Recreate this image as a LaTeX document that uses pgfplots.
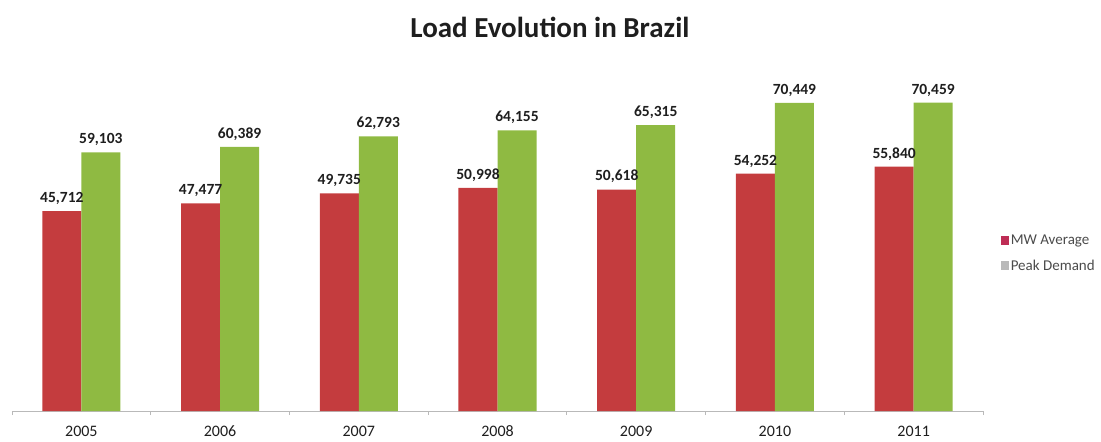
\documentclass[border=0pt]{standalone}
\usepackage{pgfplots}
\pgfplotsset{compat=1.18}
\usepackage{fontspec}
\setmainfont{Carlito}
\definecolor{barred}{RGB}{196,60,62}
\definecolor{bargreen}{RGB}{143,186,66}
\definecolor{legred}{RGB}{190,45,85}
\definecolor{axgrey}{RGB}{185,185,185}
\definecolor{txt}{RGB}{30,30,30}
\begin{document}
\begin{tikzpicture}
\useasboundingbox (0,0) rectangle (1101pt,442pt);
\begin{axis}[
  at={(12pt,31pt)}, anchor=south west,
  scale only axis, width=971pt, height=350pt,
  ymin=0, ymax=80000, xmin=-0.5, xmax=6.5,
  ybar=0pt, bar width=39pt,
  axis y line=none, axis x line*=bottom,
  axis line style={axgrey, line width=1pt},
  xtick={0,...,6}, xticklabels={2005,2006,2007,2008,2009,2010,2011},
  major tick length=0pt,
  minor xtick={-0.5,0.5,...,6.5}, minor tick length=4pt,
  tick style={axgrey, line width=0.8pt},
  xtick pos=bottom, tick align=outside,
  xticklabel style={font=\fontsize{16}{19}\selectfont, text=txt, yshift=-13pt, text height=11pt, text depth=0pt, inner sep=1pt},
  /pgf/number format/.cd, 1000 sep={,}, assume math mode=true, /pgfplots/.cd,
  nodes near coords,
  nodes near coords style={font=\fontsize{15.5}{18}\selectfont\bfseries, text=txt, yshift=3pt},
  title={\fontsize{29}{33}\selectfont\bfseries Load Evolution in Brazil},
  title style={at={(rel axis cs:0.554,1.08)}, anchor=center, text=txt},
  legend style={at={(rel axis cs:1.015,0.451)}, anchor=west, draw=none, fill=none,
    font=\fontsize{15}{18}\selectfont, text=txt!80, row sep=10pt},
  legend cell align=left,
  clip=false,
]
\addplot[fill=barred, draw=none, legend image code/.code={\fill[legred] (0pt,-4.5pt) rectangle (8pt,4.5pt);}] coordinates {(0,45712) (1,47477) (2,49735) (3,50998) (4,50618) (5,54252) (6,55840)};
\addplot[fill=bargreen, draw=none, legend image code/.code={\fill[gray!55] (0pt,-4.5pt) rectangle (8pt,4.5pt);}] coordinates {(0,59103) (1,60389) (2,62793) (3,64155) (4,65315) (5,70449) (6,70459)};
\legend{MW Average, Peak Demand}
\end{axis}
\end{tikzpicture}
\end{document}
